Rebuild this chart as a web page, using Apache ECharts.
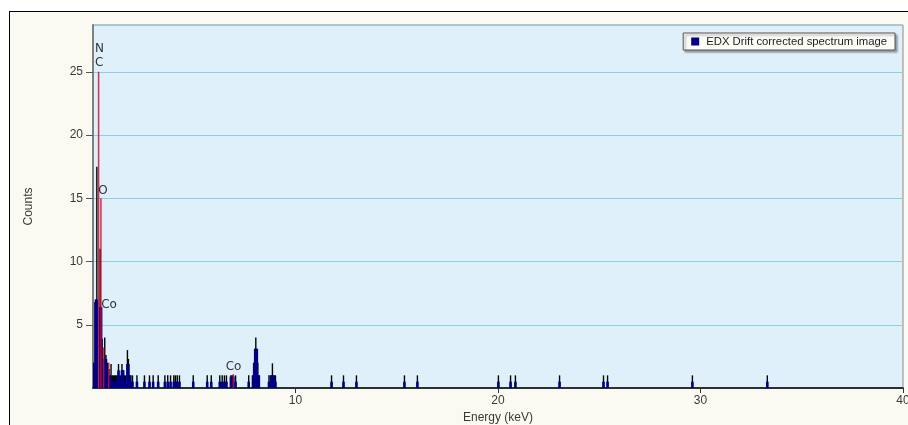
<!DOCTYPE html>
<html>
<head>
<meta charset="utf-8">
<script src="https://cdn.jsdelivr.net/npm/echarts/dist/echarts.min.js"></script>
<style>
  html, body { margin: 0; padding: 0; background: #ffffff; overflow: hidden; width: 908px; height: 425px; }
  #frame { position: absolute; left: 9px; top: 11px; width: 899px; height: 414px; box-sizing: border-box;
           border-top: 1px solid #000; border-left: 1px solid #000; background: #fafaf2; }
  #chart { position: absolute; left: 0; top: 0; width: 908px; height: 425px; }
</style>
</head>
<body>
<div id="frame"></div>
<div id="chart"></div>
<script>
// ---- data ----
const energyKeV = [
  0.05, 0.12, 0.19, 0.35, 0.40, 0.45, 0.51, 0.58, 0.64, 0.72, 0.79, 0.85, 0.89,
  0.96, 1.01, 1.06, 1.11, 1.16, 1.21, 1.26, 1.31, 1.36, 1.43, 1.49, 1.55, 1.60,
  1.70, 1.75, 1.80, 1.87, 1.95, 2.17,
  2.54, 2.79, 2.97, 3.22, 3.55, 3.69, 3.83, 3.99, 4.07, 4.16, 4.27, 4.95, 5.64,
  5.84, 6.26, 6.38, 6.49, 6.59,
  6.81, 6.87, 6.93, 7.04, 7.69,
  7.90, 7.96, 8.01, 8.04, 8.09, 8.14, 8.19,
  8.69, 8.79, 8.86, 8.93, 9.01,
  11.78, 12.37, 13.01, 15.38, 16.02, 20.02, 20.62, 20.86, 23.04, 25.21, 25.41, 29.60, 33.30
];
const peakCounts = [
  2.0, 7.0, 17.5, 11.0, 6.4, 3.9, 2.3, 4.0, 2.6, 2.0, 1.5, 1.0, 1.9,
  1.0, 1.0, 1.0, 1.0, 1.0, 1.0, 1.9, 1.0, 1.0, 1.9, 1.4, 1.0, 1.0,
  3.0, 2.3, 1.0, 1.0, 1.0, 1.0,
  1, 1, 1, 1, 1, 1, 1, 1, 1, 1, 1, 1, 1,
  1, 1, 1, 1, 1,
  1, 1, 1, 1, 1,
  1, 2, 3.1, 4.0, 3.1, 2, 1,
  1, 1, 1.95, 1, 1,
  1, 1, 1, 1, 1, 1, 1, 1, 1, 1, 1, 1, 1
];
const fillCounts = [
  2.0, 6.8, 7.0, 6.4, 6.4, 2.0, 2.3, 2.3, 2.3, 1.5, 1.0, 0.9, 0.9,
  0.5, 0.5, 0.5, 0.5, 0.5, 0.9, 1.4, 0.9, 0.5, 1.4, 1.4, 0.6, 0.6,
  1.9, 1.9, 1.0, 0.5, 0.5, 0.5,
  0.5, 0.5, 0.5, 0.5, 0.5, 0.5, 0.5, 0.5, 0.5, 0.5, 0.5, 0.5, 0.5,
  0.5, 0.5, 0.5, 0.5, 0.5,
  0.9, 0.9, 0.9, 0.5, 0.5,
  1, 2, 3.1, 3.1, 3.1, 1, 1,
  0.5, 1, 1, 1, 0.5,
  0.5, 0.5, 0.5, 0.5, 0.5, 0.5, 0.5, 0.5, 0.5, 0.5, 0.5, 0.5, 0.5
];
// element marker lines
const markerEnergy = [0.277, 0.392, 0.525, 0.776, 6.93];
const markerHeight = [25, 15.0, 3.2, 2.0, 1.1];
// element labels
const labelText   = ['N', 'C', 'O', 'Co', 'Co'];
const labelEnergy = [0.32, 0.30, 0.49, 0.79, 6.94];
const labelCount  = [26.8, 25.7, 15.6, 6.6, 1.68];

const xTicks = { min: 0, max: 40, interval: 10 };
const yTicks = { min: 0, max: 28.7, interval: 5 };
const seriesName = 'EDX Drift corrected spectrum image';

// ---- chart ----
const chart = echarts.init(document.getElementById('chart'), null, { renderer: 'canvas' });

function barRenderer(width, color, opacity) {
  return function (params, api) {
    const e = api.value(0), v = api.value(1);
    const top = api.coord([e, v]);
    const base = api.coord([e, 0]);
    return {
      type: 'rect',
      shape: { x: top[0] - width / 2, y: top[1], width: width, height: base[1] - top[1] },
      style: { fill: color, opacity: opacity }
    };
  };
}

const peakData = energyKeV.map((e, i) => [e, peakCounts[i]]);
const fillData = energyKeV.map((e, i) => [e, fillCounts[i]]);
const markerData = markerEnergy.map((e, i) => [e, markerHeight[i]]);
const labelData = labelText.map((t, i) => ({ name: t, value: [labelEnergy[i], labelCount[i]] }));

const axisFont = { fontFamily: 'Liberation Sans, Arial, sans-serif', fontSize: 12, color: '#3a3a3a' };

chart.setOption({
  animation: false,
  backgroundColor: 'transparent',
  grid: {
    left: 93, right: 5, top: 25, bottom: 37,
    outerBoundsMode: 'none', containLabel: false,
    show: true, backgroundColor: '#e0f0fb', borderColor: '#8a8a8a', borderWidth: 1
  },
  legend: {
    data: [{ name: seriesName, icon: 'rect', itemStyle: { color: '#000080' } }],
    right: 13, top: 33,
    padding: [3, 8, 3, 8],
    itemWidth: 8, itemHeight: 8, itemGap: 5,
    backgroundColor: '#fcfcf7',
    borderColor: '#555', borderWidth: 1, borderRadius: 0,
    shadowColor: 'rgba(0,0,0,0.35)', shadowOffsetX: 2, shadowOffsetY: 2, shadowBlur: 2,
    textStyle: { fontFamily: 'Liberation Sans, Arial, sans-serif', fontSize: 11.3, color: '#222', padding: [0, 0, 0, 2] },
    selectedMode: false
  },
  xAxis: {
    type: 'value', min: xTicks.min, max: xTicks.max, interval: xTicks.interval,
    name: 'Energy (keV)', nameLocation: 'middle', nameGap: 22,
    nameTextStyle: axisFont,
    axisLine: { show: true, lineStyle: { color: '#000', width: 1.5 } },
    axisTick: { show: true, length: 5, lineStyle: { color: '#333' } },
    axisLabel: { ...axisFont, margin: 7, showMinLabel: false },
    splitLine: { show: false }
  },
  yAxis: {
    type: 'value', min: yTicks.min, max: yTicks.max, interval: yTicks.interval,
    name: 'Counts', nameLocation: 'middle', nameGap: 58,
    nameTextStyle: axisFont,
    axisLine: { show: true, lineStyle: { color: '#808080', width: 2 } },
    axisTick: { show: true, length: 7, lineStyle: { color: '#555' } },
    axisLabel: { ...axisFont, margin: 10, showMinLabel: false, showMaxLabel: false },
    splitLine: { show: true, lineStyle: { color: '#8ccfe2', width: 1.2 } }
  },
  series: [
    {
      name: 'peaks', type: 'custom', renderItem: barRenderer(1.4, '#000000', 1),
      encode: { x: 0, y: 1 }, data: peakData, clip: true, silent: true, z: 2
    },
    {
      name: seriesName, type: 'custom', renderItem: barRenderer(2.6, '#000080', 1),
      encode: { x: 0, y: 1 }, data: fillData, clip: true, silent: true, z: 3,
      itemStyle: { color: '#000080' }
    },
    {
      name: 'markers', type: 'custom', renderItem: barRenderer(1.5, '#c8102e', 0.85),
      encode: { x: 0, y: 1 }, data: markerData, clip: true, silent: true, z: 4
    },
    {
      name: 'labels', type: 'scatter', symbolSize: 0, data: labelData, silent: true, z: 5,
      label: {
        show: true, position: 'inside', formatter: '{b}',
        fontFamily: 'DejaVu Sans, Liberation Sans, sans-serif', fontSize: 12, color: '#000'
      }
    }
  ]
});
</script>
</body>
</html>
